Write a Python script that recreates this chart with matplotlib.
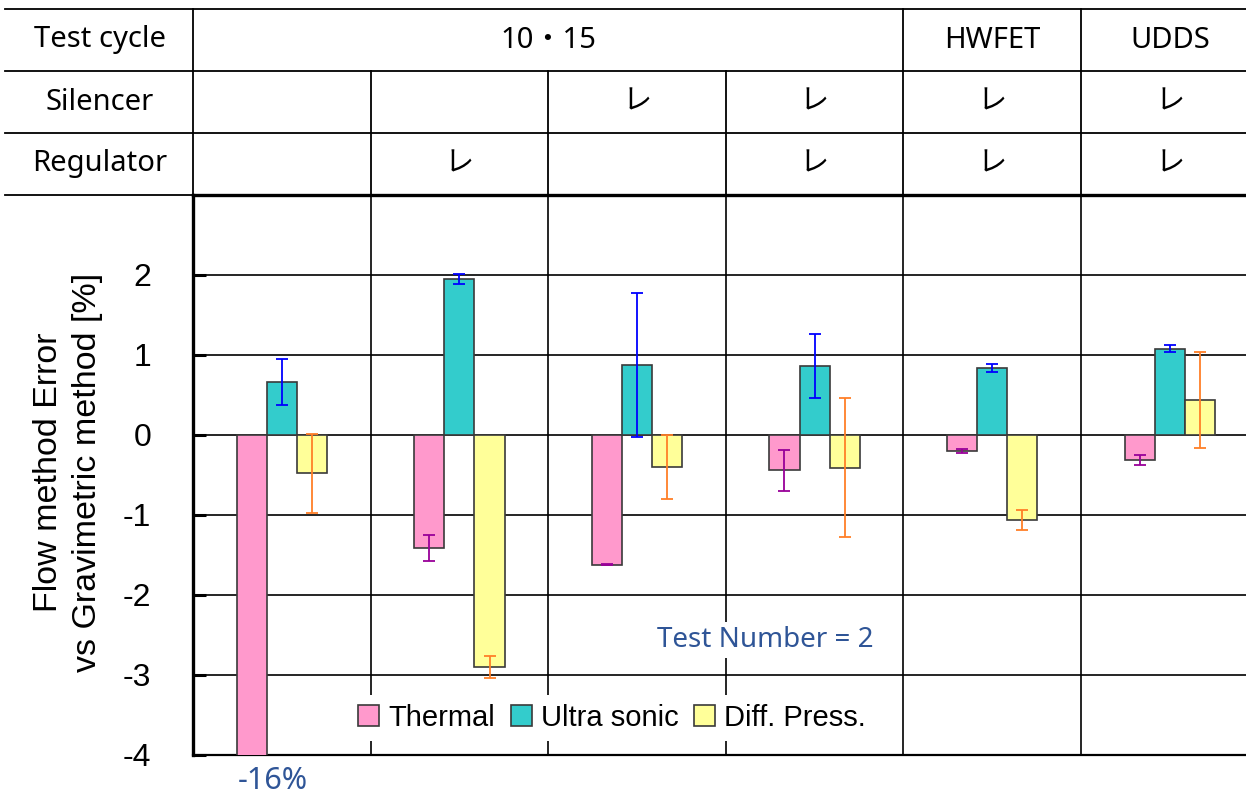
import matplotlib
matplotlib.use('Agg')
import matplotlib.pyplot as plt
import numpy as np
from matplotlib.patches import Patch

# ---------------- data ----------------
thermal = [-16.0, -1.41, -1.62, -0.44, -0.20, -0.31]
thermal_err = [0.0, 0.165, 0.01, 0.255, 0.03, 0.06]
ultrasonic = [0.66, 1.95, 0.88, 0.86, 0.84, 1.08]
ultrasonic_err = [0.29, 0.065, 0.90, 0.40, 0.05, 0.04]
diffpress = [-0.48, -2.90, -0.40, -0.41, -1.06, 0.44]
diffpress_err = [0.49, 0.135, 0.40, 0.87, 0.125, 0.60]

series_names = ['Thermal', 'Ultra sonic', 'Diff. Press.']
cycle_labels = ['10・15', 'HWFET', 'UDDS']
cycle_spans = [(0, 4), (4, 5), (5, 6)]
silencer = [False, False, True, True, True, True]
regulator = [False, True, False, True, True, True]
row_labels = ['Test cycle', 'Silencer', 'Regulator']
yticks = [-4, -3, -2, -1, 0, 1, 2]
ylabel = 'Flow method Error\nvs Gravimetric method [%]'
note = 'Test Number = 2'
clip_note = '-16%'

# ---------------- style ----------------
W, H, DPI = 1246, 797, 100
plt.rcParams['axes.unicode_minus'] = False
fill = ['#FF99CC', '#33CCCC', '#FFFF99']
errc = ['#990099', '#0000FF', '#FF7F27']
edge = '#3A3A3A'
tfont = ['Noto Sans', 'Noto Sans CJK JP']
afont = ['Liberation Sans', 'DejaVu Sans']
note_col = '#2F5597'

fig = plt.figure(figsize=(W / DPI, H / DPI), dpi=DPI)

colw = 177.6  # px per group
xmax = (W - 193) / colw
ax = fig.add_axes([193 / W, 1 - 755 / H, (W - 193) / W, 560 / H])
ax.set_xlim(0, xmax)
ax.set_ylim(-4, 3)

n = len(thermal)
centers = np.arange(n) + 0.5
bw = 0.17
vals = [thermal, ultrasonic, diffpress]
errs = [thermal_err, ultrasonic_err, diffpress_err]
for k in range(3):
    xs = centers + (k - 1) * bw
    ax.bar(xs, vals[k], width=bw, color=fill[k], edgecolor=edge, linewidth=1.2, zorder=3)
    ax.errorbar(xs, vals[k], yerr=errs[k], fmt='none', ecolor=errc[k],
                elinewidth=1.3, capsize=4.5, capthick=1.3, zorder=4)

for y in yticks + [3]:
    ax.axhline(y, color='black', lw=1.2, zorder=2)
for xg in range(1, n):
    ax.axvline(xg, color='black', lw=1.2, zorder=2)

ax.spines['right'].set_visible(False)
ax.spines['left'].set_linewidth(2.4)
ax.spines['top'].set_linewidth(2.4)
ax.spines['bottom'].set_linewidth(1.6)
ax.set_xticks([])
ax.set_yticks(yticks)
ax.set_yticklabels([str(t) for t in yticks], fontfamily=afont, fontsize=23)
ax.tick_params(axis='y', direction='in', length=9, width=2.2, pad=30)

handles = [Patch(facecolor=fill[k], edgecolor=edge, linewidth=1.2) for k in range(3)]
leg = ax.legend(handles, series_names, loc='center', bbox_to_anchor=(0.398, 0.066),
                ncol=3, frameon=True, fancybox=False, edgecolor='none', facecolor='white',
                framealpha=1, prop={'family': afont, 'size': 21},
                handlelength=0.72, handleheight=0.72, handletextpad=0.3,
                columnspacing=0.55, borderpad=0.3)
leg.set_zorder(6)

ax.text(3.22, -2.5625, note, fontfamily=tfont, fontsize=20, color=note_col,
        ha='center', va='center', zorder=6,
        bbox=dict(facecolor='white', edgecolor='none', pad=3))
ax.text(0.45, -4.32, clip_note, fontfamily=tfont, fontsize=22, color=note_col,
        ha='center', va='center', clip_on=False)

fig.text(68 / W, 1 - 472 / H, ylabel, rotation=90, ha='center', va='center',
         fontfamily=afont, fontsize=24.5, linespacing=1.3)

# ---------------- table ----------------
axt = fig.add_axes([193 / W, 1 - 195 / H, (W - 193) / W, (195 - 9) / H])
axt.set_xlim(0, xmax)
axt.set_ylim(3, 0)
axt.axis('off')
xl = -(193 - 5) / colw
for r in range(4):
    axt.plot([xl, xmax], [r, r], color='black', lw=1.3, clip_on=False)
axt.plot([0, 0], [0, 3], color='black', lw=1.3, clip_on=False)
for a, b in cycle_spans:
    if b < n:
        axt.plot([b, b], [0, 3], color='black', lw=1.3, clip_on=False)
for g in range(1, n):
    if all(g != b for a, b in cycle_spans):
        axt.plot([g, g], [1, 3], color='black', lw=1.3, clip_on=False)

lab_x = -(193 - 100) / colw
for r, lab in enumerate(row_labels):
    axt.text(lab_x, r + 0.5, lab, fontfamily=tfont, fontsize=21, ha='center', va='center')
for lab, (a, b) in zip(cycle_labels, cycle_spans):
    axt.text((a + b) / 2, 0.5, lab, fontfamily=tfont, fontsize=21, ha='center', va='center')
for g in range(n):
    if silencer[g]:
        axt.text(g + 0.5, 1.5, 'レ', fontfamily=tfont, fontsize=21, ha='center', va='center')
    if regulator[g]:
        axt.text(g + 0.5, 2.5, 'レ', fontfamily=tfont, fontsize=21, ha='center', va='center')

fig.savefig('out.png', dpi=DPI)
